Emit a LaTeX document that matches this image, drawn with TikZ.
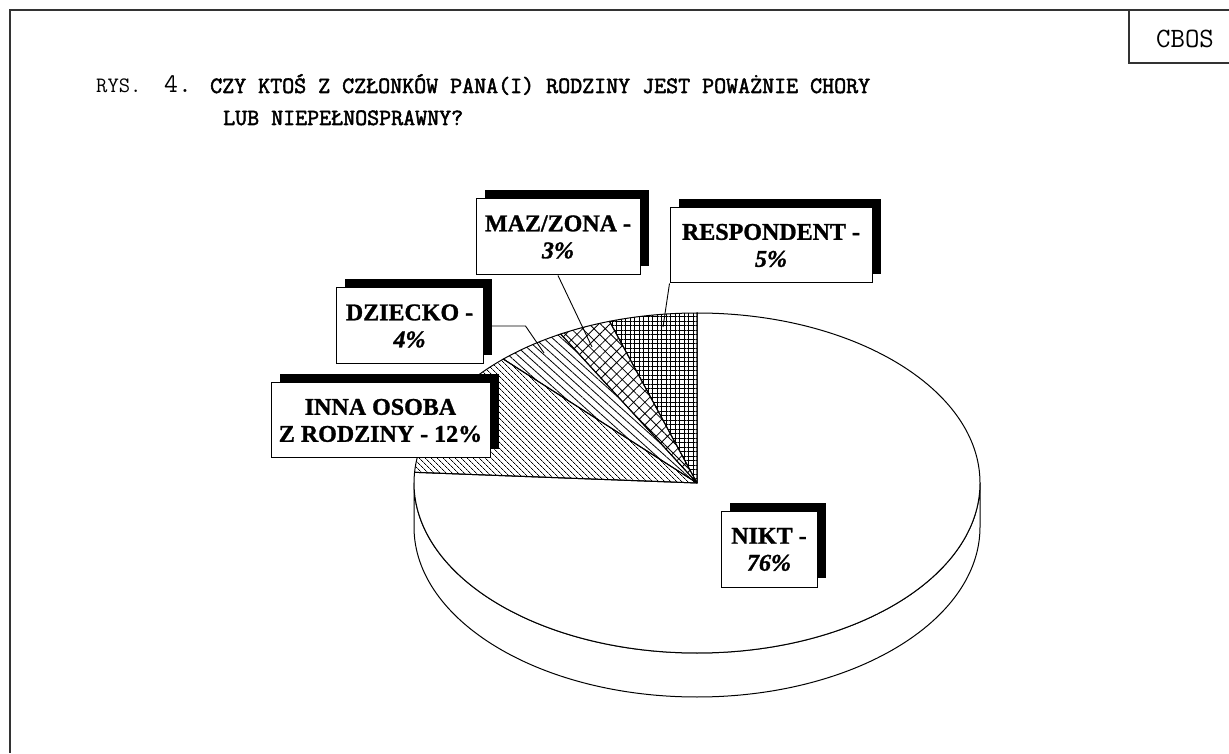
\documentclass[tikz,border=0pt]{standalone}
\usepackage{fontspec}
\setmainfont{Liberation Serif}
\newfontfamily\boldmono[FakeBold=2.2]{Latin Modern Mono}
\usetikzlibrary{patterns.meta,shadows}
\begin{document}
\begin{tikzpicture}[x=1pt,y=1pt,
  frameline/.style={draw=black!80,line width=1.4pt},
  slice/.style={draw=black,line width=1pt,line join=round},
  leader/.style={draw=black,line width=0.9pt},
  lblbox/.style={draw=black,line width=1pt,fill=white,inner sep=0pt,align=center,
     font=\bfseries\fontsize{24}{27}\selectfont\addfontfeatures{FakeBold=1.2},
     drop shadow={shadow xshift=9pt,shadow yshift=9pt,fill=black,opacity=1}},
  titletxt/.style={anchor=base west,inner sep=0pt},
]
\useasboundingbox (0,0) rectangle (1229,753);
\fill[white] (0,0) rectangle (1229,753);
% frame
\draw[frameline] (1229,743) -- (10,743) -- (10,0);
\draw[frameline] (1129,743) -- (1129,690) -- (1229,690);
\node[font=\ttfamily\fontsize{28}{32}\selectfont,inner sep=0pt] (cbos) at (1185,714) {CBOS};
% title
\node[titletxt,font=\ttfamily\fontsize{22}{26}\selectfont] (rys) at (96,660) {RYS.};
\node[titletxt,font=\ttfamily\fontsize{27}{30}\selectfont] (num) at (164,660) {4.};
\node[titletxt,font=\boldmono\fontsize{23.3}{26}\selectfont] (t1) at (210,660) {CZY KTOŚ Z CZŁONKÓW PANA(I) RODZINY JEST POWAŻNIE CHORY};
\node[titletxt,font=\boldmono\fontsize{23.3}{26}\selectfont] (t2) at (223,628) {LUB NIEPEŁNOSPRAWNY?};
% pie
\coordinate (C) at (697,270);
\path[slice,fill=white] (C) ++(180:283 and 170) arc[start angle=180,end angle=360,x radius=283,y radius=170] -- ++(0,-44) arc[start angle=360,end angle=180,x radius=283,y radius=170] -- cycle;
\path[slice,fill=white] (C) -- ++(90:283 and 170) arc[start angle=90,end angle=-183.6,x radius=283,y radius=170] -- cycle;
\path[slice,pattern={Lines[angle=-45,distance=4pt,line width=0.8pt]}] (C) -- ++(176.4:283 and 170) arc[start angle=176.4,end angle=133.2,x radius=283,y radius=170] -- cycle;
\path[slice,pattern={Lines[angle=-42,distance=6pt,line width=0.8pt]}] (C) -- ++(133.2:283 and 170) arc[start angle=133.2,end angle=118.8,x radius=283,y radius=170] -- cycle;
\path[slice,pattern={Hatch[angle=45,distance=8pt,line width=0.8pt]}] (C) -- ++(118.8:283 and 170) arc[start angle=118.8,end angle=108,x radius=283,y radius=170] -- cycle;
\path[slice,pattern={Hatch[angle=0,distance=4.5pt,line width=0.7pt]}] (C) -- ++(108:283 and 170) arc[start angle=108,end angle=90,x radius=283,y radius=170] -- cycle;
% label boxes
\node[lblbox,minimum width=164pt,minimum height=76pt] (maz) at (558,516) {MAZ/ZONA -\\\textit{3\%}};
\node[lblbox,minimum width=202pt,minimum height=75pt] (resp) at (771,507.5) {RESPONDENT -\\\textit{5\%}};
\node[lblbox,minimum width=147pt,minimum height=76pt] (dz) at (409.5,427) {DZIECKO -\\\textit{4\%}};
\node[lblbox,minimum width=219pt,minimum height=75pt] (inna) at (380.5,332.5) {INNA OSOBA\\Z RODZINY - 12\%};
\node[lblbox,minimum width=96pt,minimum height=75pt] (nikt) at (769,203.5) {NIKT -\\\textit{76\%}};
% leaders
\coordinate (mazend) at (592,406);
\coordinate (respend) at (663,426);
\coordinate (dzend) at (544,400);
\draw[leader] (maz.south) -- (mazend);
\draw[leader] (resp.south west) -- (respend);
\draw[leader] (dz.east) -- ++(42,0) -- (dzend);
\end{tikzpicture}
\end{document}
